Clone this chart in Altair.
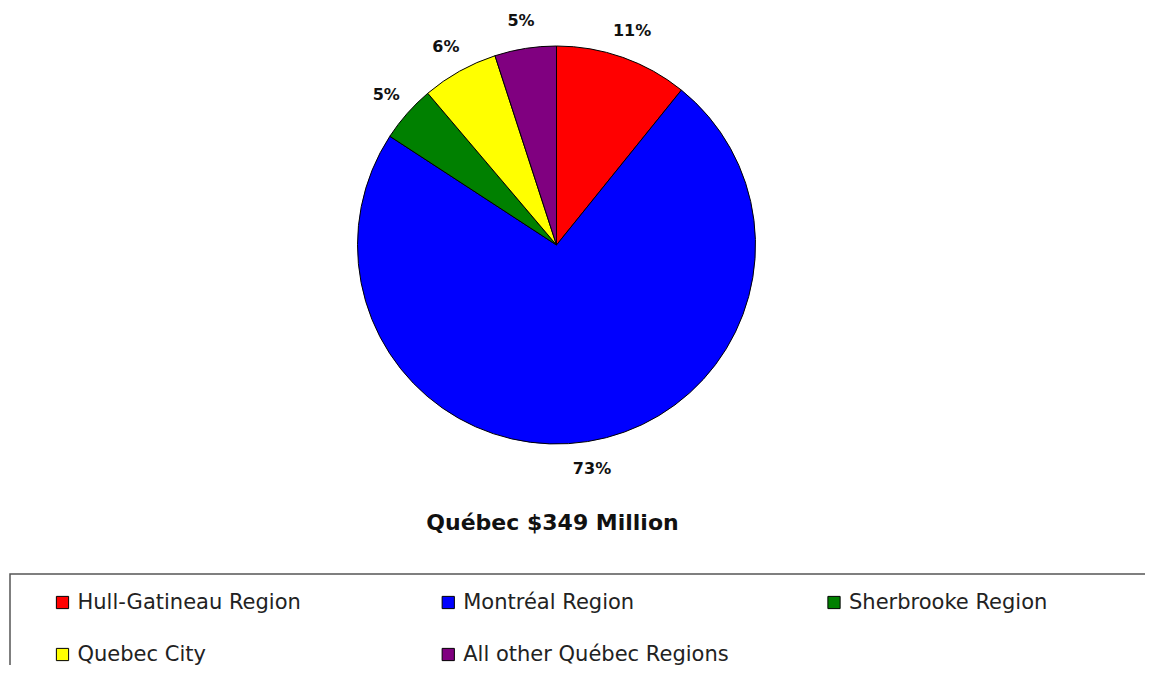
import altair as alt
import pandas as pd

# Data
regions = ["Hull-Gatineau Region", "Montréal Region", "Sherbrooke Region",
           "Quebec City", "All other Québec Regions"]
shares = [10.8, 73.4, 4.6, 6.2, 5.0]
pct_labels = ["11%", "73%", "5%", "6%", "5%"]
colors = ["#FF0000", "#0000FF", "#008000", "#FFFF00", "#800080"]
title_text = ["Québec $349 Million"]

df = pd.DataFrame({
    "region": regions,
    "share": shares,
    "label": pct_labels,
    "idx": list(range(len(regions))),
    "col": [i % 3 for i in range(len(regions))],
    "row": [i // 3 for i in range(len(regions))],
})

FONT = "DejaVu Sans"
CX, CY, R = 548.5, 237, 199

color_enc = alt.Color("region:N", scale=alt.Scale(domain=regions, range=colors), legend=None)

base = alt.Chart(df)

pie = base.mark_arc(outerRadius=R, stroke="#000000", strokeWidth=1).encode(
    theta=alt.Theta("share:Q", stack=True),
    color=color_enc,
    order=alt.Order("idx:Q"),
    x=alt.value(CX), y=alt.value(CY),
)

pct = base.mark_text(radius=227, font=FONT, fontSize=16, fontWeight="bold",
                     color="#111111", align="center", baseline="middle").encode(
    theta=alt.Theta("share:Q", stack=True),
    order=alt.Order("idx:Q"),
    text="label:N",
    x=alt.value(CX), y=alt.value(CY),
)

title = alt.Chart(pd.DataFrame({"t": title_text})).mark_text(
    font=FONT, fontSize=22, fontWeight="bold", color="#111111",
    align="center", baseline="middle").encode(
    text="t:N", x=alt.value(544.5), y=alt.value(515))

box = alt.Chart(pd.DataFrame({"t": title_text})).mark_rect(
    fill=None, stroke="#555555", strokeWidth=1.5).encode(
    x=alt.value(2), x2=alt.value(1300), y=alt.value(566), y2=alt.value(800))

xs = alt.X("col:Q", scale=alt.Scale(domain=[0, 2], range=[54.5, 826]), axis=None)
ys = alt.Y("row:Q", scale=alt.Scale(domain=[0, 1], range=[594.5, 646.5]), axis=None)

leg_sq = base.mark_square(size=150, stroke="#000000", strokeWidth=1, opacity=1).encode(
    x=xs, y=ys, color=color_enc)

leg_txt = base.mark_text(font=FONT, fontSize=21, color="#222222", align="left",
                         baseline="middle", dx=15).encode(
    x=xs, y=ys, text="region:N")

chart = alt.layer(pie, pct, title, box, leg_sq, leg_txt).properties(
    width=1137, height=657, padding=0,
    autosize=alt.AutoSizeParams(type="none"),
).configure_view(stroke=None)

chart.save("out.html", embed_options={"renderer": "svg", "actions": False})
